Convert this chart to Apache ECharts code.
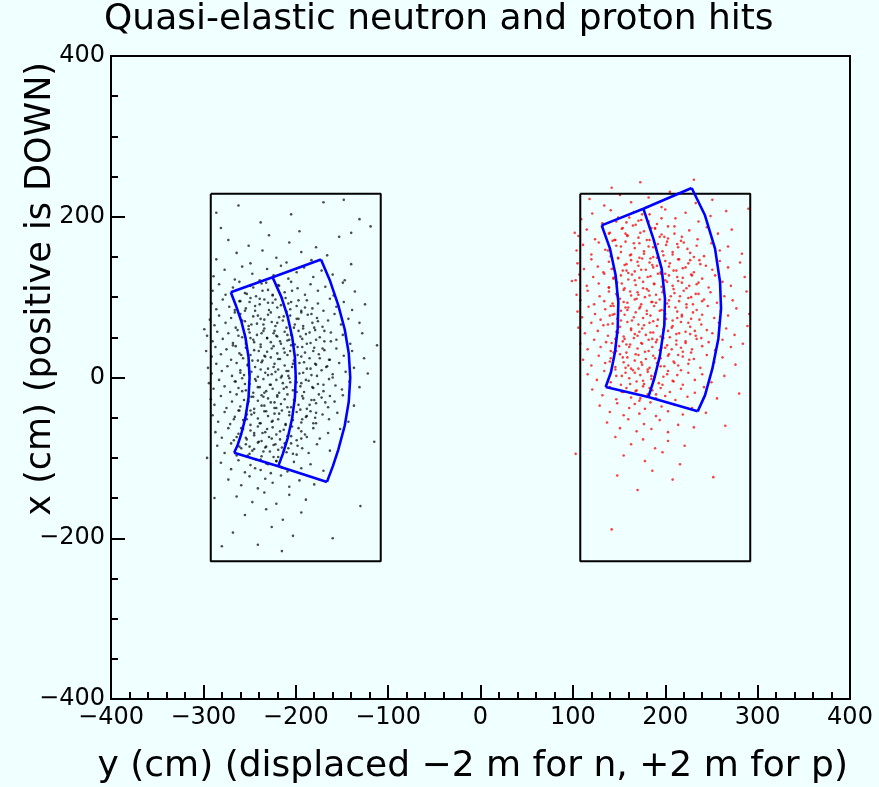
<!DOCTYPE html>
<html>
<head>
<meta charset="utf-8">
<script src="https://cdn.jsdelivr.net/npm/echarts@6/dist/echarts.min.js"></script>
<style>
html,body{margin:0;padding:0;background:#f0ffff;}
#chart{width:879px;height:787px;}
</style>
</head>
<body>
<div id="chart"></div>
<script>
// ---- axis ticks ----
var xTicks = [-400, -300, -200, -100, 0, 100, 200, 300, 400];
var yTicks = [-400, -200, 0, 200, 400];

// ---- detector boxes (cm) ----
var neutronBox = [[-292, 228.6], [-108, 228.6], [-108, -228.6], [-292, -228.6], [-292, 228.6]];
var protonBox = [[108, 228.6], [292, 228.6], [292, -228.6], [108, -228.6], [108, 228.6]];

// ---- blue sector outlines, neutron side ----
var nInnerArc = [[-270.3, 106.0], [-264.9, 90], [-258.9, 70], [-254.5, 50], [-251.1, 25], [-250.0, 0], [-251.1, -25], [-254.5, -50], [-258.9, -70], [-263.2, -85], [-266.7, -93.7]];
var nMiddleArc = [[-225.1, 124.7], [-215.5, 100], [-208.6, 75], [-203.8, 50], [-200.9, 25], [-200.0, 0], [-200.9, -25], [-203.8, -50], [-208.6, -75], [-214.0, -95], [-218.9, -110.3]];
var nOuterArc = [[-172.7, 146.8], [-162.8, 120], [-154.0, 90], [-147.0, 60], [-142.6, 30], [-141.0, 0], [-142.6, -30], [-147.0, -60], [-154.0, -90], [-159.7, -110], [-166.2, -129.9]];
var nTopEdge = [[-270.3, 106.0], [-225.1, 124.7], [-172.7, 146.8]];
var nBottomEdge = [[-266.7, -93.7], [-218.9, -110.3], [-166.2, -129.9]];

// ---- blue sector outlines, proton side ----
var pInnerArc = [[131.2, 189.3], [140.2, 160.3], [146.3, 127.1], [149.2, 93.9], [148.5, 60.8], [145.6, 31.7], [141.3, 6.8], [135.5, -11.8]];
var pMiddleArc = [[176.3, 210.0], [187.1, 172.7], [196.1, 135.4], [199.7, 98.1], [199.0, 64.9], [194.3, 27.6], [188.1, -1.5], [181.7, -24.3]];
var pOuterArc = [[228.6, 235.8], [243.0, 201.8], [253.9, 160.3], [259.3, 118.8], [260.4, 85.6], [257.5, 48.3], [251.0, 11.0], [243.0, -22.2], [235.1, -42.1]];
var pTopEdge = [[131.2, 189.3], [176.3, 210.0], [228.6, 235.8]];
var pBottomEdge = [[135.5, -11.8], [181.7, -24.3], [235.1, -42.1]];

// ---- neutron hits (black) ----
var neutronHits = [
[-262,214],[-205,203],[-148,221],
[-281,186],[-238,193],[-196,182],[-131,197],
[-273,171],[-251,164],[-229,177],[-207,168],[-178,162],[-153,175],
[-286,147],[-264,155],[-249,142],[-236,158],[-221,149],[-210,143],[-194,156],[-183,146],[-166,152],[-140,141],
[-289,126],[-277,134],[-266,122],[-258,138],[-247,129],[-239,121],[-231,135],[-224,127],[-216,139],[-208,123],[-199,131],[-191,137],[-181,125],[-172,133],[-160,128],[-147,121],
[-290,108],[-283,116],[-276,103],[-268,112],[-261,119],[-255,105],[-249,114],[-243,101],[-237,117],[-230,109],[-225,102],[-219,115],[-212,106],[-205,119],[-198,111],[-190,103],[-184,116],[-176,108],[-168,113],[-159,102],[-149,118],[-136,107],
[-291,92],[-286,85],[-279,97],[-272,88],[-266,81],[-260,95],[-254,86],[-249,99],[-244,83],[-239,91],[-234,97],[-229,84],[-225,93],[-220,87],[-215,99],[-210,82],[-205,94],[-199,89],[-194,81],[-188,96],[-182,86],[-176,92],[-170,83],[-163,98],[-156,88],[-148,94],[-139,84],[-125,91],
[-293,72],[-288,65],[-283,77],[-276,68],[-270,74],[-265,62],[-260,79],[-255,70],[-251,64],[-246,76],[-242,67],[-238,73],[-234,61],[-230,78],[-226,69],[-222,64],[-218,75],[-214,71],[-210,62],[-206,77],[-201,66],[-197,73],[-192,61],[-187,78],[-182,68],[-177,74],[-171,63],[-165,71],[-158,79],[-151,66],[-143,73],[-131,68],
[-296,52],[-290,45],[-285,57],[-279,48],[-273,55],[-268,43],[-263,59],[-258,50],[-254,42],[-250,56],[-246,47],[-242,53],[-238,41],[-235,58],[-231,49],[-227,44],[-224,55],[-220,51],[-216,42],[-212,57],[-209,46],[-205,53],[-201,41],[-197,58],[-193,48],[-189,54],[-184,43],[-179,59],[-174,50],[-169,45],[-162,56],[-156,47],[-149,53],[-141,42],[-128,55],
[-297,33],[-291,26],[-287,38],[-281,29],[-275,35],[-270,22],[-265,39],[-261,30],[-257,24],[-253,37],[-249,28],[-245,34],[-241,21],[-238,38],[-234,27],[-231,32],[-227,25],[-224,39],[-220,30],[-217,23],[-213,36],[-209,28],[-206,33],[-202,21],[-198,38],[-194,26],[-190,31],[-185,24],[-180,37],[-175,29],[-169,34],[-163,22],[-156,36],[-148,27],[-139,33],[-126,24],
[-295,12],[-291,5],[-286,17],[-280,8],[-274,14],[-269,2],[-264,18],[-260,9],[-256,3],[-252,16],[-248,7],[-244,13],[-241,1],[-237,19],[-233,6],[-230,11],[-226,4],[-223,17],[-219,10],[-215,2],[-212,15],[-208,8],[-204,13],[-200,1],[-196,18],[-192,6],[-188,11],[-183,3],[-178,16],[-172,9],[-166,14],[-160,4],[-153,18],[-146,7],[-137,12],[-122,5],
[-294,-7],[-289,-14],[-283,-3],[-277,-11],[-271,-18],[-266,-5],[-262,-13],[-258,-1],[-254,-16],[-250,-8],[-246,-19],[-243,-4],[-239,-12],[-235,-2],[-232,-17],[-228,-9],[-225,-14],[-221,-3],[-218,-19],[-214,-7],[-210,-12],[-207,-1],[-203,-16],[-199,-6],[-195,-11],[-191,-18],[-186,-4],[-181,-13],[-176,-8],[-170,-17],[-164,-2],[-157,-10],[-150,-15],[-142,-5],[-131,-12],
[-292,-27],[-288,-34],[-281,-23],[-275,-38],[-269,-30],[-264,-21],[-260,-36],[-256,-28],[-252,-33],[-248,-24],[-245,-39],[-241,-29],[-237,-22],[-234,-35],[-230,-26],[-227,-31],[-223,-38],[-220,-24],[-216,-33],[-212,-27],[-209,-21],[-205,-37],[-201,-29],[-197,-34],[-193,-23],[-188,-39],[-183,-28],[-178,-32],[-172,-25],[-165,-37],[-158,-30],[-149,-22],[-137,-35],
[-290,-47],[-284,-55],[-277,-43],[-271,-58],[-266,-49],[-261,-41],[-257,-53],[-253,-46],[-249,-59],[-245,-44],[-241,-51],[-238,-57],[-234,-42],[-230,-48],[-226,-55],[-223,-45],[-219,-52],[-215,-41],[-211,-58],[-207,-47],[-203,-53],[-199,-43],[-194,-56],[-189,-49],[-184,-42],[-178,-57],[-171,-46],[-164,-52],[-155,-44],[-143,-55],
[-287,-68],[-280,-75],[-273,-63],[-267,-78],[-262,-70],[-257,-64],[-253,-77],[-249,-66],[-245,-72],[-241,-61],[-237,-79],[-233,-68],[-229,-74],[-225,-62],[-221,-71],[-217,-77],[-213,-65],[-209,-73],[-204,-61],[-199,-78],[-194,-67],[-188,-74],[-181,-63],[-174,-76],[-165,-69],[-152,-64],
[-285,-85],[-277,-94],[-270,-82],[-264,-97],[-259,-88],[-254,-83],[-250,-95],[-245,-89],[-241,-81],[-237,-98],[-232,-86],[-228,-92],[-224,-84],[-219,-99],[-215,-87],[-210,-93],[-205,-82],[-199,-96],[-193,-88],[-186,-94],[-177,-83],[-163,-91],
[-281,-106],[-270,-114],[-262,-103],[-255,-118],[-249,-109],[-243,-102],[-238,-115],[-232,-107],[-227,-119],[-221,-104],[-215,-112],[-209,-117],[-202,-105],[-194,-113],[-184,-108],[-170,-116],
[-273,-127],[-259,-134],[-250,-123],[-241,-138],[-233,-126],[-225,-131],[-216,-122],[-207,-136],[-196,-128],[-180,-133],
[-264,-148],[-247,-155],[-234,-143],[-221,-157],[-207,-146],[-189,-152],
[-255,-171],[-232,-164],[-214,-177],[-194,-168],
[-268,-193],[-226,-186],[-203,-197],
[-241,-208],[-215,-216],
[-286,205],[-170,218],[-119,188],[-288,-150],[-130,-160],[-280,-210],[-160,-200],[-299,60],[-112,40],[-115,-80],[-140,180],[-296,-100],
[-261,95],[-258,71],[-262,52],[-259,28],[-260,6],[-258,-17],[-262,-41],[-259,-63],[-261,-86],
[-253,104],[-255,83],[-251,60],[-254,37],[-252,15],[-255,-8],[-251,-30],[-253,-52],[-254,-75],[-252,-97],
[-246,112],[-244,89],[-248,66],[-245,44],[-247,21],[-244,-2],[-246,-24],[-248,-46],[-245,-69],[-247,-91],[-244,-113],
[-239,98],[-241,77],[-237,55],[-240,33],[-238,10],[-241,-12],[-237,-35],[-239,-57],[-240,-80],[-238,-102],
[-232,118],[-230,93],[-234,72],[-231,49],[-233,26],[-230,3],[-234,-19],[-232,-42],[-231,-64],[-233,-87],[-230,-108],
[-225,103],[-227,81],[-223,58],[-226,36],[-224,13],[-227,-9],[-223,-31],[-225,-54],[-226,-76],[-224,-99],
[-218,114],[-216,90],[-220,68],[-217,45],[-219,23],[-216,0],[-220,-22],[-218,-45],[-217,-67],[-219,-90],[-216,-111],
[-211,99],[-213,76],[-209,53],[-212,31],[-210,8],[-213,-14],[-209,-37],[-211,-59],[-212,-82],
[-204,108],[-206,85],[-202,62],[-205,40],[-203,17],[-206,-6],[-202,-28],[-204,-50],[-205,-73],[-203,-95],
[-197,96],[-199,73],[-195,51],[-198,28],[-196,5],[-199,-18],[-195,-40],[-197,-63],[-198,-85],
[-190,87],[-192,64],[-188,42],[-191,19],[-189,-3],[-192,-26],[-188,-48],[-190,-71],
[-183,79],[-185,56],[-181,33],[-184,11],[-182,-12],[-185,-34],[-181,-57],
[-176,70],[-178,47],[-174,24],[-177,2],[-175,-21],[-178,-44],
[-169,58],[-171,36],[-167,13],[-170,-9],[-168,-31],
[-162,45],[-164,22],[-160,0],[-163,-23],
[-266,84],[-268,40],[-265,-5],[-267,-52],[-264,-74],
[-250,94],[-249,49],[-250,4],[-249,-41],[-250,-86],
[-236,108],[-235,66],[-236,21],[-235,-24],[-236,-69],[-235,-92],
[-222,97],[-221,52],[-222,7],[-221,-38],[-222,-83],[-221,-104],
[-208,92],[-207,47],[-208,2],[-207,-43],[-208,-88],
[-194,83],[-193,38],[-194,-7],[-193,-52],[-194,-76],
[-180,62],[-179,17],[-180,-28],[-179,-50]
];

// ---- proton hits (red) ----
var protonHits = [
[142,236],[173,243],[205,231],[231,246],
[118,222],[134,214],[151,227],[163,218],[182,224],[196,212],[214,229],[233,217],[251,221],
[109,197],[121,204],[132,192],[141,208],[149,199],[158,193],[166,206],[174,196],[183,203],[191,191],[200,209],[211,198],[222,205],[236,194],[249,201],[266,207],
[106,176],[115,184],[124,172],[132,188],[139,179],[146,171],[153,185],[159,177],[165,189],[171,174],[177,182],[183,171],[189,186],[196,178],[203,173],[210,188],[218,175],[226,183],[235,172],[245,187],[257,179],[272,184],
[104,158],[111,165],[120,153],[128,168],[135,159],[141,151],[147,164],[152,156],[157,169],[162,152],[167,161],[172,167],[177,154],[182,163],[187,150],[192,166],[197,157],[202,169],[208,153],[214,162],[220,168],[227,155],[234,164],[242,151],[250,167],[259,158],[268,163],[283,154],
[105,142],[112,135],[120,147],[127,138],[133,131],[139,144],[144,136],[149,149],[154,133],[158,141],[163,146],[167,132],[171,139],[175,148],[179,134],[183,143],[187,137],[191,149],[195,131],[200,145],[204,138],[209,133],[214,147],[219,136],[225,142],[231,131],[237,146],[244,139],[251,134],[259,145],[268,137],[281,143],
[103,121],[107,128],[115,114],[122,125],[128,117],[134,129],[139,112],[144,123],[148,118],[152,127],[156,111],[160,122],[164,128],[168,115],[172,124],[176,119],[180,110],[184,126],[188,117],[192,129],[196,113],[200,121],[204,127],[208,114],[213,125],[218,118],[223,111],[228,128],[234,116],[240,123],[247,112],[254,127],[262,119],[271,114],[286,125],
[104,103],[108,96],[116,108],[123,91],[129,101],[134,95],[139,107],[143,92],[147,104],[151,98],[155,109],[159,93],[163,102],[167,97],[170,106],[174,91],[178,100],[182,108],[186,94],[190,103],[194,97],[198,109],[202,92],[206,101],[210,105],[215,95],[220,108],[225,99],[230,91],[236,104],[242,97],[249,106],[256,93],[264,101],[273,96],[288,107],
[105,82],[110,75],[117,88],[124,79],[130,72],[135,85],[140,77],[144,89],[148,73],[152,83],[156,78],[160,87],[164,71],[168,81],[172,86],[176,74],[180,83],[184,77],[188,89],[192,72],[196,84],[200,79],[204,88],[208,71],[213,82],[218,76],[223,87],[228,73],[234,84],[240,78],[246,89],[253,74],[260,83],[268,77],[277,86],[291,79],
[106,62],[113,55],[120,68],[127,58],[133,65],[138,52],[143,67],[147,57],[151,63],[155,51],[159,69],[163,59],[167,54],[171,66],[175,61],[179,53],[183,68],[187,56],[191,64],[195,51],[199,67],[203,58],[207,62],[212,54],[217,69],[222,57],[227,63],[233,52],[239,66],[245,59],[251,55],[258,68],[266,61],[275,53],[289,64],
[108,42],[116,35],[123,47],[130,38],[136,44],[141,33],[146,48],[150,39],[154,45],[158,31],[162,41],[166,49],[170,36],[174,43],[178,32],[182,47],[186,38],[190,44],[194,34],[198,49],[202,40],[207,35],[212,46],[217,37],[222,43],[228,31],[234,48],[240,39],[247,44],[254,34],[262,47],[271,38],[284,42],
[111,22],[120,15],[128,27],[135,18],[141,24],[146,13],[151,29],[155,19],[159,25],[163,11],[167,21],[171,28],[175,16],[179,23],[183,12],[187,27],[191,18],[195,24],[199,14],[204,29],[209,20],[214,15],[219,26],[225,17],[231,23],[238,12],[245,28],[253,19],[262,25],[276,16],
[116,4],[126,-3],[134,8],[141,-6],[147,2],[152,-9],[157,6],[161,-1],[165,9],[169,-5],[173,3],[177,-8],[181,7],[185,-2],[189,5],[193,-7],[198,1],[203,8],[208,-4],[213,3],[219,-9],[225,6],[232,-3],[240,4],[250,-6],[264,2],
[121,-15],[132,-22],[140,-12],[147,-27],[153,-18],[158,-13],[163,-25],[168,-17],[172,-29],[176,-11],[181,-21],[186,-16],[190,-26],[195,-13],[200,-23],[205,-18],[211,-28],[217,-14],[224,-24],[232,-19],[242,-12],[256,-26],
[129,-35],[140,-43],[148,-32],[155,-47],[161,-38],[167,-33],[172,-45],[178,-39],[184,-31],[190,-48],[196,-36],[203,-42],[210,-34],[219,-46],[229,-38],[244,-44],
[137,-56],[151,-63],[160,-52],[169,-67],[177,-58],[185,-64],[194,-53],[203,-68],[214,-59],[231,-62],
[146,-74],[163,-83],[176,-77],[189,-88],[203,-79],[221,-85],
[155,-97],[178,-104],[197,-93],[216,-108],
[148,-122],[186,-116],[208,-127],
[170,-140],[252,-124],[142,-189],[103,-95],[265,-60],[102,180],[99,120],[290,210],[280,-20],
[140,180],[138,158],[142,135],[139,112],[141,89],[138,66],[142,43],[140,20],
[147,194],[145,171],[149,148],[146,125],[148,102],[145,79],[149,56],[147,33],[146,10],
[154,186],[152,163],[156,140],[153,117],[155,94],[152,71],[156,48],[154,25],[153,2],[155,-18],
[161,199],[159,176],[163,153],[160,130],[162,107],[159,84],[163,61],[161,38],[160,15],[162,-8],
[168,190],[166,167],[170,144],[167,121],[169,98],[166,75],[170,52],[168,29],[167,6],[169,-16],
[175,203],[173,180],[177,157],[174,134],[176,111],[173,88],[177,65],[175,42],[174,19],[176,-4],[173,-26],
[182,194],[180,171],[184,148],[181,125],[183,102],[180,79],[184,56],[182,33],[181,10],[183,-13],
[189,185],[187,162],[191,139],[188,116],[190,93],[187,70],[191,47],[189,24],[188,1],[190,-21],
[196,198],[194,175],[198,152],[195,129],[197,106],[194,83],[198,60],[196,37],[195,14],[197,-9],
[203,188],[201,165],[205,142],[202,119],[204,96],[201,73],[205,50],[203,27],[202,4],
[210,179],[208,156],[212,133],[209,110],[211,87],[208,64],[212,41],[210,18],[209,-5],
[217,170],[215,147],[219,124],[216,101],[218,78],[215,55],[219,32],[217,9],
[224,160],[222,137],[226,114],[223,91],[225,68],[222,45],[226,22],
[231,150],[229,127],[233,104],[230,81],[232,58],[229,35],
[238,141],[236,118],[240,95],[237,72],[239,49],
[143,170],[144,124],[143,78],[144,31],
[157,179],[158,133],[157,87],[158,41],[157,12],
[171,195],[172,149],[171,103],[172,57],[171,11],
[185,186],[186,140],[185,94],[186,48],[185,2],
[199,175],[200,129],[199,83],[200,37],
[213,166],[214,120],[213,74],[214,28],
[227,146],[228,100],[227,54]
];

var titleText = 'Quasi-elastic neutron and proton hits';
var xTitle = 'y (cm) (displaced \u22122 m for n, +2 m for p)';
var yTitle = 'x (cm) (positive is DOWN)';

var FONT = '"DejaVu Sans", sans-serif';
function minusFmt(v) { return String(v).replace('-', '\u2212'); }

function outline(data) {
  return {
    type: 'line', data: data, smooth: false, showSymbol: false, silent: true,
    lineStyle: { color: '#0000ff', width: 2.6, join: 'round' }, z: 5, animation: false
  };
}
function box(data) {
  return {
    type: 'line', data: data, showSymbol: false, silent: true,
    lineStyle: { color: '#000', width: 2 }, z: 4, animation: false
  };
}

var chart = echarts.init(document.getElementById('chart'), null, { renderer: 'canvas' });
chart.setOption({
  backgroundColor: '#f0ffff',
  animation: false,
  grid: { left: 111, right: 29, top: 56, bottom: 88, show: true, borderColor: '#000', borderWidth: 2, backgroundColor: 'transparent' },
  xAxis: {
    type: 'value', min: xTicks[0], max: xTicks[xTicks.length - 1], interval: 100,
    axisLine: { show: true, onZero: false, lineStyle: { color: '#000', width: 2 } },
    axisTick: { show: true, inside: true, length: 14, lineStyle: { color: '#000', width: 2 } },
    minorTick: { show: true, splitNumber: 5, length: 7, lineStyle: { color: '#000', width: 2 } },
    splitLine: { show: false },
    axisLabel: { formatter: minusFmt, color: '#000', fontFamily: FONT, fontSize: 24, margin: 7, showMinLabel: true, showMaxLabel: true }
  },
  yAxis: {
    type: 'value', min: yTicks[0], max: yTicks[yTicks.length - 1], interval: 200,
    axisLine: { show: true, onZero: false, lineStyle: { color: '#000', width: 2 } },
    axisTick: { show: true, inside: true, length: 14, lineStyle: { color: '#000', width: 2 } },
    minorTick: { show: true, splitNumber: 4, length: 7, lineStyle: { color: '#000', width: 2 } },
    splitLine: { show: false },
    axisLabel: { formatter: minusFmt, color: '#000', fontFamily: FONT, fontSize: 24, margin: 6, showMinLabel: true, showMaxLabel: true }
  },
  graphic: [
    { type: 'text', left: 104, top: 2, style: { text: titleText, font: '36px ' + FONT, fill: '#000' } },
    { type: 'text', right: 31, top: 749, style: { text: xTitle, font: '36px ' + FONT, fill: '#000' } },
    { type: 'text', left: 23, top: 62, rotation: Math.PI / 2, style: { text: yTitle, font: '35px ' + FONT, fill: '#000' } }
  ],
  series: [
    { type: 'scatter', data: neutronHits, symbol: 'circle', symbolSize: 2.6, itemStyle: { color: '#000', opacity: 0.7 }, silent: true, z: 2 },
    { type: 'scatter', data: protonHits, symbol: 'circle', symbolSize: 2.6, itemStyle: { color: '#ff0000', opacity: 0.75 }, silent: true, z: 2 },
    box(neutronBox), box(protonBox),
    outline(nInnerArc), outline(nMiddleArc), outline(nOuterArc), outline(nTopEdge), outline(nBottomEdge),
    outline(pInnerArc), outline(pMiddleArc), outline(pOuterArc), outline(pTopEdge), outline(pBottomEdge)
  ]
});
</script>
</body>
</html>
